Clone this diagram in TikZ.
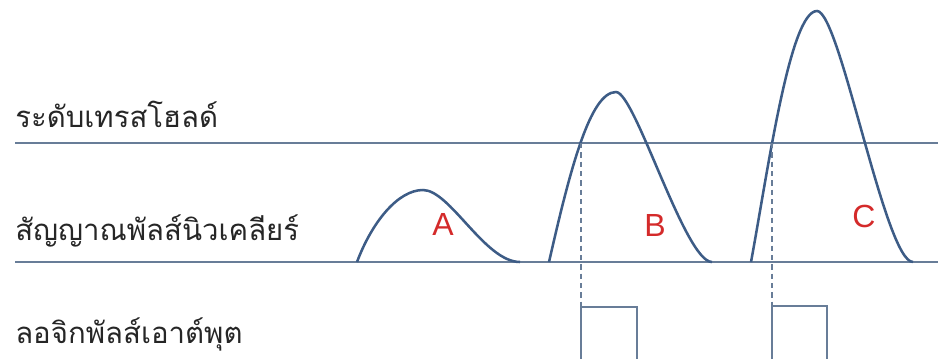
\documentclass[tikz,border=0pt]{standalone}
\usepackage{fontspec}
\setmainfont{Liberation Sans}
\newfontfamily\thaifont[Script=Thai]{Loma}
\definecolor{axisc}{HTML}{687D98}
\definecolor{curvec}{HTML}{3D5C86}
\definecolor{labred}{HTML}{D42A2A}
\tikzset{
  hline/.style={draw=axisc, line width=1.6pt},
  pulse/.style={draw=curvec, line width=1.9pt},
  guide/.style={draw=axisc, line width=1.1pt, dashed, dash pattern=on 4pt off 3pt},
  outbox/.style={draw=axisc, line width=1.4pt},
  thlabel/.style={font=\thaifont\fontsize{22}{26}\selectfont, text=black!85, anchor=base west, inner sep=0pt},
  peaklabel/.style={font=\fontsize{24}{28}\selectfont, text=labred, inner sep=0pt}
}
\begin{document}
\begin{tikzpicture}[x=0.75pt,y=-0.75pt]
\useasboundingbox (0,0) rectangle (938,358);
% levels
\coordinate (thL) at (15,143);
\coordinate (thR) at (938,143);
\coordinate (bsL) at (15,262);
\coordinate (bsR) at (938,262);
\draw[hline] (thL) -- (thR);
\draw[hline] (bsL) -- (bsR);
% labels
\node[thlabel] (lth) at (15,127) {ระดับเทรสโฮลด์};
\node[thlabel] (lsig) at (15,240) {สัญญาณพัลส์นิวเคลียร์};
\node[thlabel] (lout) at (15,343) {ลอจิกพัลส์เอาต์พุต};
% pulse A
\draw[pulse] (357,262) .. controls (372,222) and (398,190) .. (423,190)
                       .. controls (450,190) and (485,262) .. (520,262);
% pulse B
\draw[pulse] (549,262) .. controls (570,170) and (590,92) .. (616,92)
                       .. controls (635,92) and (685,262) .. (712,262);
% pulse C
\draw[pulse] (751,262) .. controls (768,170) and (790,11) .. (817,11)
                       .. controls (840,11) and (885,262) .. (913,262);
% peak labels
\node[peaklabel] (pa) at (443,224) {A};
\node[peaklabel] (pb) at (655,225) {B};
\node[peaklabel] (pc) at (864,216) {C};
% crossings and logic pulses
\coordinate (xb) at (581,143);
\coordinate (xbt) at (581,307);
\coordinate (xbr) at (637,307);
\coordinate (xbb) at (581,360);
\coordinate (xbrb) at (637,360);
\draw[guide] (xb) -- (xbt);
\draw[outbox] (xbb) -- (xbt) -- (xbr) -- (xbrb);
\coordinate (xc) at (772,143);
\coordinate (xct) at (772,306);
\coordinate (xcr) at (827,306);
\coordinate (xcb) at (772,360);
\coordinate (xcrb) at (827,360);
\draw[guide] (xc) -- (xct);
\draw[outbox] (xcb) -- (xct) -- (xcr) -- (xcrb);
\end{tikzpicture}
\end{document}
